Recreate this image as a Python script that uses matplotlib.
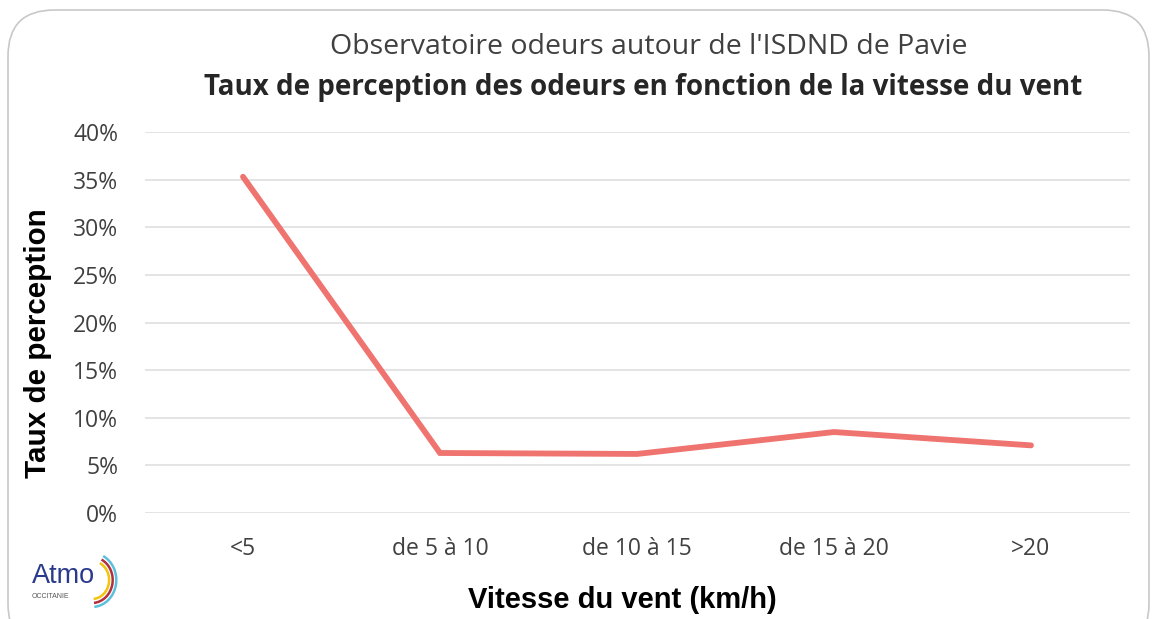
import matplotlib
matplotlib.use("Agg")
import matplotlib.pyplot as plt
from matplotlib.patches import FancyBboxPatch, Arc
from matplotlib.ticker import FuncFormatter

categories = ["<5", "de 5 à 10", "de 10 à 15", "de 15 à 20", ">20"]
taux = [0.353, 0.063, 0.062, 0.085, 0.071]
yticks = [0, 0.05, 0.10, 0.15, 0.20, 0.25, 0.30, 0.35, 0.40]

W, H = 1155, 619
fig = plt.figure(figsize=(W / 100, H / 100), dpi=100)
fig.patch.set_facecolor("white")

# rounded border
border = FancyBboxPatch((8 / W, -0.05), (1149 - 8) / W, 1.0 - 10 / H + 0.05,
                        boxstyle="round,pad=0,rounding_size=0.04",
                        transform=fig.transFigure, fill=False,
                        edgecolor="#c8c8c8", linewidth=1.2,
                        mutation_aspect=W / H)
fig.patches.append(border)

ax = fig.add_axes([144.5 / W, 1 - 513 / H, (1129.5 - 144.5) / W, (513 - 132) / H])
x = list(range(len(categories)))
ax.plot(x, taux, color="#ef7470", linewidth=4.2, solid_capstyle="round",
        solid_joinstyle="miter", zorder=3)
ax.set_xlim(-0.5, len(categories) - 0.5)
ax.set_ylim(0, 0.40)
ax.set_yticks(yticks)
ax.yaxis.set_major_formatter(FuncFormatter(lambda v, p: f"{v*100:.0f}%"))
ax.set_xticks(x)
ax.set_xticklabels(categories)
for s in ax.spines.values():
    s.set_visible(False)
ax.grid(axis="y", color="#e2e2e2", linewidth=1.3)
ax.set_axisbelow(True)
ax.tick_params(axis="both", length=0, labelsize=16.5, labelcolor="#404040")
ax.tick_params(axis="y", pad=19)
ax.tick_params(axis="x", pad=17)
for lbl in ax.get_xticklabels() + ax.get_yticklabels():
    lbl.set_fontfamily("Open Sans")

fig.text(649 / W, 1 - 47 / H, "Observatoire odeurs autour de l'ISDND de Pavie",
         ha="center", va="center", fontsize=20.5, family="Open Sans", color="#404040")
fig.text(643 / W, 1 - 87 / H, "Taux de perception des odeurs en fonction de la vitesse du vent",
         ha="center", va="center", fontsize=20, family="Open Sans", fontweight="bold",
         color="#262626")
fig.text(38 / W, 1 - 343 / H, "Taux de perception", rotation=90, ha="center", va="center",
         fontsize=21.3, family="Liberation Sans", fontweight="bold", color="black")
fig.text(622 / W, 1 - 600 / H, "Vitesse du vent (km/h)", ha="center", va="center",
         fontsize=21, family="Liberation Sans", fontweight="bold", color="black")

# logo approximation
fig.text(32 / W, 1 - 576 / H, "Atmo", ha="left", va="center", fontsize=19.5,
         family="Liberation Sans", color="#2a3a8c")
fig.text(32 / W, 1 - 597 / H, "OCCITANIE", ha="left", va="center", fontsize=5,
         family="Liberation Sans", color="#555555")
for r, c in [(27, "#5bc0de"), (23, "#b03040"), (19, "#f1c40f")]:
    arc = Arc((92, (H - 580)), 2 * r * 0.9, 2 * r, theta1=-85, theta2=65,
              transform=None, color=c, linewidth=1.8)
    fig.patches.append(arc)

fig.savefig("out.png", dpi=100, facecolor="white")
